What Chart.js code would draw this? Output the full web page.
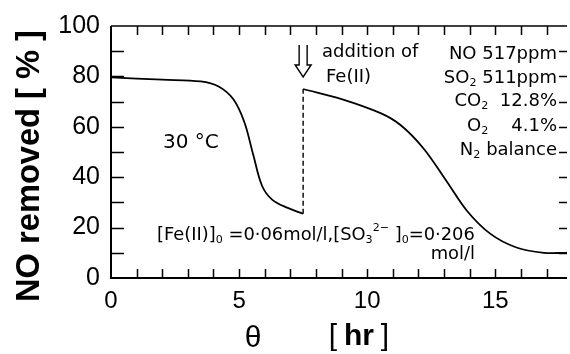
<!DOCTYPE html>
<html>
<head>
<meta charset="utf-8">
<script src="https://cdn.jsdelivr.net/npm/chart.js"></script>
<style>
  body { margin: 0; background: #fff; }
  #wrap { width: 570px; height: 354px; position: relative; }
</style>
</head>
<body>
<div id="wrap"><canvas id="noChart"></canvas></div>
<script>
// =========================
// DATA
// =========================
// before Fe(II) addition
const hoursBefore = [0, 2, 3.5, 4.2, 4.77, 5.2, 5.55, 5.9, 6.3, 6.9, 7.5];
const removedBefore = [79.6, 78.7, 78, 76, 71, 62, 49, 36.5, 31, 27.8, 25.5];
// after Fe(II) addition
const hoursAfter = [7.5, 9, 10.5, 11.3, 12.2, 13.1, 13.9, 14.8, 15.8, 16.9, 17.8];
const removedAfter = [75, 71, 65.5, 60.7, 51.4, 38.4, 26.6, 17.6, 12.2, 10, 10];
// jump at the moment of addition
const hoursJump = [7.5, 7.5];
const removedJump = [25.5, 75];

const xTicks = [0, 5, 10, 15];
const yTicks = [0, 20, 40, 60, 80, 100];
const xMax = 17.8;

function toPoints(xs, ys) {
    return xs.map(function (x, i) { return { x: x, y: ys[i] }; });
}

// =========================
// HELPERS
// =========================
const FONT = '"Liberation Sans", Arial, sans-serif';
const NOTE_FONT = '"DejaVu Sans", sans-serif';

// parts: [text, mode] where mode is '' / 'sub' / 'sup'
function richWidth(ctx, parts, size) {
    let w = 0;
    parts.forEach(function (p) {
        const s = p[1] ? size * 0.62 : size;
        ctx.font = s + 'px ' + NOTE_FONT;
        w += ctx.measureText(p[0]).width;
    });
    return w;
}

function drawRich(ctx, parts, x, y, size, align) {
    const w = richWidth(ctx, parts, size);
    let cx = align === 'right' ? x - w : (align === 'center' ? x - w / 2 : x);
    ctx.textBaseline = 'middle';
    ctx.textAlign = 'left';
    parts.forEach(function (p) {
        const s = p[1] ? size * 0.62 : size;
        let dy = 0;
        if (p[1] === 'sub') dy = size * 0.3;
        if (p[1] === 'sup') dy = -size * 0.38;
        ctx.font = s + 'px ' + NOTE_FONT;
        ctx.fillText(p[0], cx, y + dy);
        cx += ctx.measureText(p[0]).width;
    });
}

// =========================
// FRAME, TICKS AND LABELS
// =========================
const decorPlugin = {
    id: 'decor',
    afterDraw: function (chart) {
        const ctx = chart.ctx;
        const a = chart.chartArea;
        const xs = chart.scales.x;
        const ys = chart.scales.y;
        ctx.save();
        ctx.strokeStyle = '#000';
        ctx.fillStyle = '#000';

        // axes lines
        ctx.lineWidth = 2;
        ctx.beginPath();
        ctx.moveTo(a.left, a.top);
        ctx.lineTo(a.left, a.bottom);
        ctx.lineTo(a.right, a.bottom);
        ctx.stroke();
        ctx.lineWidth = 1.6;
        ctx.beginPath();
        ctx.moveTo(a.left, a.top);
        ctx.lineTo(a.right, a.top);
        ctx.stroke();

        // hour ticks, top and bottom
        ctx.lineWidth = 1.5;
        for (let h = 1; h <= Math.floor(xMax); h++) {
            const px = Math.round(xs.getPixelForValue(h)) + 0.5;
            ctx.beginPath();
            ctx.moveTo(px, a.top);
            ctx.lineTo(px, a.top + 9);
            ctx.moveTo(px, a.bottom);
            ctx.lineTo(px, a.bottom - 9);
            ctx.stroke();
        }
        // left and right ticks every 10 %
        for (let v = 10; v < 100; v += 10) {
            const py = Math.round(ys.getPixelForValue(v)) + 0.5;
            ctx.beginPath();
            ctx.moveTo(a.left, py);
            ctx.lineTo(a.left + 13, py);
            ctx.moveTo(a.right, py);
            ctx.lineTo(a.right - 8, py);
            ctx.stroke();
        }

        // y title
        const yTitle = 'NO removed [ % ]';
        let size = 30;
        ctx.font = 'bold ' + size + 'px ' + FONT;
        size = size * 272 / ctx.measureText(yTitle).width;
        ctx.font = 'bold ' + size + 'px ' + FONT;
        ctx.translate(30, 166);
        ctx.rotate(-Math.PI / 2);
        ctx.textAlign = 'center';
        ctx.textBaseline = 'middle';
        ctx.fillText(yTitle, 0, 0);
        ctx.setTransform(1, 0, 0, 1, 0, 0);

        // x title
        ctx.font = '30px ' + FONT;
        ctx.textAlign = 'center';
        ctx.fillText('\u03B8', 253, 339);
        ctx.fillText('[', 333, 337);
        ctx.fillText(']', 385, 337);
        ctx.font = 'bold 30px ' + FONT;
        ctx.fillText('hr', 359, 337);

        // arrow marking Fe(II) addition
        const ax = xs.getPixelForValue(7.5);
        ctx.lineWidth = 1.4;
        ctx.beginPath();
        ctx.moveTo(ax - 4, 45);
        ctx.lineTo(ax - 4, 65);
        ctx.lineTo(ax - 8, 65);
        ctx.lineTo(ax, 77);
        ctx.lineTo(ax + 8, 65);
        ctx.lineTo(ax + 4, 65);
        ctx.lineTo(ax + 4, 45);
        ctx.stroke();

        drawRich(ctx, [['addition of', '']], 322, 52, 18, 'left');
        drawRich(ctx, [['Fe(II)', '']], 326, 77, 18, 'left');

        // gas composition
        const rx = 557;
        drawRich(ctx, [['NO 517ppm', '']], rx, 54, 18, 'right');
        drawRich(ctx, [['SO', ''], ['2', 'sub'], [' 511ppm', '']], rx, 78, 18, 'right');
        drawRich(ctx, [['CO', ''], ['2', 'sub'], ['  12.8%', '']], rx, 101, 18, 'right');
        drawRich(ctx, [['O', ''], ['2', 'sub'], ['    4.1%', '']], rx, 126, 18, 'right');
        drawRich(ctx, [['N', ''], ['2', 'sub'], [' balance', '']], rx, 150, 18, 'right');

        drawRich(ctx, [['30 \u00B0C', '']], 163, 143, 20, 'left');

        const conc = [['[Fe(II)]', ''], ['0', 'sub'], [' =0\u00B706mol/l,[SO', ''],
            ['3', 'sub'], ['2\u2212', 'sup'], [' ]', ''], ['0', 'sub'], ['=0\u00B7206', '']];
        const concSize = 18 * 318 / richWidth(ctx, conc, 18);
        drawRich(ctx, conc, 157, 235, concSize, 'left');
        drawRich(ctx, [['mol/l', '']], 475, 254, concSize, 'right');

        ctx.restore();
    }
};

// =========================
// CHART
// =========================
const canvas = document.getElementById('noChart');

new Chart(canvas, {
    type: 'line',
    data: {
        datasets: [
            {
                data: toPoints(hoursBefore, removedBefore),
                borderColor: '#000',
                borderWidth: 1.8,
                pointRadius: 0,
                tension: 0.35
            },
            {
                data: toPoints(hoursJump, removedJump),
                borderColor: '#000',
                borderWidth: 1.4,
                borderDash: [5, 3],
                pointRadius: 0
            },
            {
                data: toPoints(hoursAfter, removedAfter),
                borderColor: '#000',
                borderWidth: 1.8,
                pointRadius: 0,
                tension: 0.35
            }
        ]
    },
    options: {
        responsive: true,
        maintainAspectRatio: false,
        devicePixelRatio: 1,
        animation: false,
        layout: { padding: { top: 23, right: 3, left: 0, bottom: 0 } },
        plugins: {
            legend: { display: false },
            tooltip: { enabled: false }
        },
        scales: {
            x: {
                type: 'linear',
                min: 0,
                max: xMax,
                grid: { display: false, drawTicks: false },
                border: { display: false },
                afterBuildTicks: function (scale) {
                    scale.ticks = xTicks.map(function (v) { return { value: v }; });
                },
                afterFit: function (scale) { scale.height = 76; },
                ticks: {
                    color: '#000',
                    padding: 9,
                    maxRotation: 0,
                    font: { family: FONT, size: 24 }
                }
            },
            y: {
                min: 0,
                max: 100,
                grid: { display: false, drawTicks: false },
                border: { display: false },
                afterBuildTicks: function (scale) {
                    scale.ticks = yTicks.map(function (v) { return { value: v }; });
                },
                afterFit: function (scale) { scale.width = 111; },
                ticks: {
                    color: '#000',
                    padding: 11,
                    font: { family: FONT, size: 25 }
                }
            }
        }
    },
    plugins: [decorPlugin]
});
</script>
</body>
</html>
